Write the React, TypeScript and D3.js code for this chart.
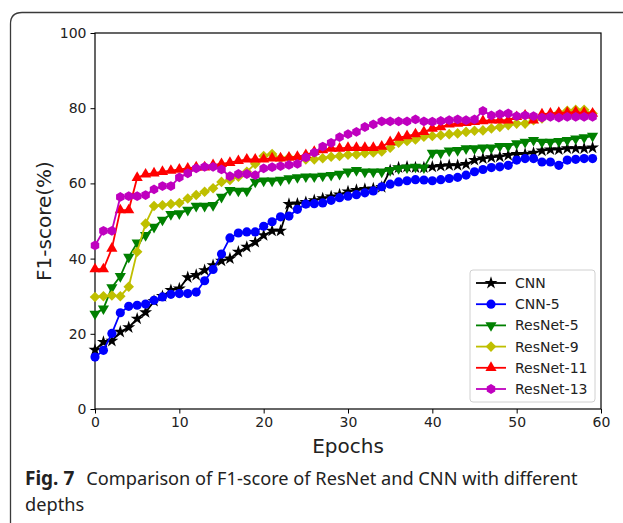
import { useEffect, useRef } from 'react';
import * as d3 from 'd3';

const W = 623;
const H = 523;

const epochs = d3.range(0, 60);

const cnn = [
	15.7, 17.8, 18.1, 20.5, 21.7, 24.0, 25.7, 28.7, 30.0, 31.6,
	32.0, 35.0, 35.6, 36.9, 38.2, 39.4, 40.0, 41.8, 43.1, 44.4,
	46.2, 47.4, 47.4, 54.5, 54.6, 55.0, 55.5, 56.0, 56.5, 57.0,
	57.8, 58.2, 58.5, 58.6, 59.0, 63.5, 64.2, 64.4, 64.2, 64.2,
	64.4, 64.6, 64.8, 64.8, 65.1, 66.2, 66.6, 66.9, 67.1, 67.5,
	67.8, 67.8, 68.1, 68.7, 69.0, 69.0, 69.3, 69.3, 69.3, 69.5,
];
const cnn5 = [
	13.8, 15.6, 20.1, 25.6, 27.3, 27.6, 27.9, 28.9, 29.8, 30.5,
	30.7, 30.7, 31.1, 34.1, 37.1, 41.2, 45.5, 46.8, 47.1, 47.1,
	48.6, 49.8, 51.1, 51.3, 53.1, 54.5, 54.6, 54.8, 55.5, 56.2,
	56.6, 57.0, 57.5, 58.0, 59.1, 59.8, 60.4, 60.7, 61.0, 60.9,
	60.7, 61.0, 61.3, 61.6, 62.2, 63.1, 63.7, 64.2, 64.4, 64.8,
	66.2, 66.6, 66.6, 65.7, 65.7, 64.8, 66.2, 66.4, 66.6, 66.6,
];
const resnet5 = [
	25.3, 26.7, 32.3, 35.3, 40.4, 44.2, 46.2, 48.4, 50.3, 51.8,
	52.0, 52.9, 54.0, 54.0, 54.2, 56.4, 58.2, 58.0, 58.0, 60.4,
	60.7, 60.7, 60.9, 61.3, 61.6, 61.8, 61.8, 62.0, 62.2, 62.5,
	63.1, 63.5, 63.1, 63.1, 63.1, 63.5, 64.0, 64.2, 64.4, 64.2,
	68.1, 68.1, 68.7, 68.8, 69.3, 69.3, 69.5, 69.5, 69.9, 69.9,
	70.6, 71.0, 71.5, 71.0, 71.0, 71.2, 71.5, 71.9, 72.2, 72.6,
];
const resnet9 = [
	29.8, 30.0, 30.2, 30.0, 32.5, 41.8, 49.3, 54.0, 54.2, 54.5,
	54.8, 56.0, 56.9, 57.8, 58.7, 60.4, 60.9, 61.8, 63.1, 65.2,
	67.3, 67.8, 66.7, 66.9, 66.9, 66.4, 66.4, 66.7, 67.1, 67.3,
	67.6, 67.7, 68.0, 68.2, 68.5, 69.5, 70.8, 71.3, 71.7, 72.4,
	72.6, 72.8, 73.1, 73.3, 73.7, 74.0, 74.1, 74.6, 75.0, 75.5,
	75.9, 75.9, 76.8, 77.3, 78.1, 78.8, 79.3, 79.6, 79.6, 78.6,
];
const resnet11 = [
	37.2, 37.2, 42.7, 52.9, 52.9, 61.5, 62.4, 62.7, 63.1, 63.4,
	63.7, 64.0, 64.3, 64.3, 64.9, 65.2, 65.5, 66.0, 66.4, 66.4,
	66.4, 66.7, 66.7, 66.9, 67.1, 67.6, 68.4, 68.9, 69.3, 69.3,
	69.5, 69.5, 69.5, 69.5, 69.8, 71.0, 72.2, 72.6, 73.1, 73.7,
	74.6, 75.0, 75.7, 75.9, 76.1, 76.4, 76.6, 76.8, 76.8, 76.8,
	77.7, 78.1, 76.8, 78.4, 78.6, 78.8, 78.8, 79.0, 78.8, 78.6,
];
const resnet13 = [
	43.5, 47.4, 47.4, 56.4, 56.6, 56.6, 56.9, 58.4, 59.3, 59.3,
	61.6, 62.7, 64.0, 64.4, 64.4, 63.7, 61.9, 62.5, 62.5, 62.2,
	64.0, 64.3, 64.6, 64.9, 65.2, 66.9, 68.2, 69.8, 70.8, 72.3,
	73.1, 73.7, 75.0, 75.7, 76.5, 76.5, 76.5, 76.5, 77.0, 76.5,
	76.4, 76.6, 76.8, 77.0, 76.8, 77.0, 79.3, 78.1, 78.4, 78.6,
	77.9, 78.1, 77.9, 77.5, 77.7, 77.5, 77.7, 77.7, 77.7, 77.7,
];

const names = ['CNN', 'CNN-5', 'ResNet-5', 'ResNet-9', 'ResNet-11', 'ResNet-13'];
const colors = ['#000000', '#0000ff', '#008000', '#bfbf00', '#ff0000', '#bf00bf'];
const markers = ['star', 'circle', 'tri-down', 'diamond', 'tri-up', 'hexagon'];
const values = [cnn, cnn5, resnet5, resnet9, resnet11, resnet13];

const xTicks = [0, 10, 20, 30, 40, 50, 60];
const yTicks = [0, 20, 40, 60, 80, 100];

// hexagon, since d3 has none
const symbolHexagon = {
	draw(ctx, size) {
		const r = Math.sqrt((2 * size) / (3 * Math.sqrt(3)));
		for (let i = 0; i < 6; i++) {
			const a = (Math.PI / 3) * i - Math.PI / 2;
			const px = r * Math.cos(a);
			const py = r * Math.sin(a);
			if (i === 0) ctx.moveTo(px, py);
			else ctx.lineTo(px, py);
		}
		ctx.closePath();
	},
};

function markerPath(kind) {
	if (kind === 'star') return d3.symbol(d3.symbolStar, 52)();
	if (kind === 'circle') return d3.symbol(d3.symbolCircle, 66)();
	if (kind === 'tri-up' || kind === 'tri-down') return d3.symbol(d3.symbolTriangle, 54)();
	if (kind === 'diamond') return d3.symbol(d3.symbolSquare, 56)();
	return d3.symbol(symbolHexagon, 62)();
}

function markerRotate(kind) {
	if (kind === 'tri-down') return 180;
	if (kind === 'diamond') return 45;
	return 0;
}

const margin = { top: 33, right: 22, bottom: 114, left: 95 };
const font = "'DejaVu Sans', sans-serif";
const capFont = "'Noto Sans', sans-serif";

export default function App() {
	const svgRef = useRef(null);

	useEffect(() => {
		const svg = d3.select(svgRef.current);
		svg.selectAll('*').remove();

		const x = d3.scaleLinear().domain([0, 60]).range([margin.left, W - margin.right]);
		const y = d3.scaleLinear().domain([0, 100]).range([H - margin.bottom, margin.top]);

		// page frame
		svg.append('path')
			.attr('d', `M10.5,${H + 2} L10.5,24 Q10.5,12.5 22,12.5 L${W + 2},12.5`)
			.attr('fill', 'none')
			.attr('stroke', '#3a3a3a')
			.attr('stroke-width', 1.3);

		const xAxis = svg.append('g')
			.attr('transform', `translate(0,${y(0)})`)
			.call(d3.axisBottom(x).tickValues(xTicks).tickSize(4.5).tickPadding(4));
		const yAxis = svg.append('g')
			.attr('transform', `translate(${x(0)},0)`)
			.call(d3.axisLeft(y).tickValues(yTicks).tickSize(4.5).tickPadding(4));
		[xAxis, yAxis].forEach(g => {
			g.attr('font-family', null).attr('font-size', null);
			g.select('.domain').remove();
			g.selectAll('line').attr('stroke', '#000').attr('stroke-width', 1);
			g.selectAll('text').style('font-family', font).style('font-size', '14px').attr('fill', '#222');
		});

		svg.append('rect')
			.attr('x', x(0))
			.attr('y', y(100))
			.attr('width', x(60) - x(0))
			.attr('height', y(0) - y(100))
			.attr('fill', 'none')
			.attr('stroke', '#000')
			.attr('stroke-width', 1.2);

		svg.append('text')
			.attr('x', (x(0) + x(60)) / 2)
			.attr('y', 453)
			.attr('text-anchor', 'middle')
			.style('font-family', font)
			.style('font-size', '20px')
			.attr('fill', '#222')
			.text('Epochs');

		svg.append('text')
			.attr('transform', `translate(51,${(y(0) + y(100)) / 2}) rotate(-90)`)
			.attr('text-anchor', 'middle')
			.style('font-family', font)
			.style('font-size', '20px')
			.attr('fill', '#222')
			.text('F1-score(%)');

		const line = d3.line().x((d, i) => x(epochs[i])).y(d => y(d));

		values.forEach((vals, k) => {
			const g = svg.append('g');
			g.append('path')
				.attr('d', line(vals))
				.attr('fill', 'none')
				.attr('stroke', colors[k])
				.attr('stroke-width', 1.8);
			const mp = markerPath(markers[k]);
			const rot = markerRotate(markers[k]);
			g.selectAll('path.m')
				.data(vals)
				.join('path')
				.attr('class', 'm')
				.attr('d', mp)
				.attr('transform', (d, i) => `translate(${x(epochs[i])},${y(d)}) rotate(${rot})`)
				.attr('fill', colors[k]);
		});

		// legend
		const lg = svg.append('g').attr('transform', 'translate(470,270)');
		lg.append('rect')
			.attr('width', 125)
			.attr('height', 132)
			.attr('rx', 3)
			.attr('fill', '#fff')
			.attr('fill-opacity', 0.85)
			.attr('stroke', '#d0d0d0');
		names.forEach((name, k) => {
			const ry = 13 + k * 21.2;
			lg.append('line')
				.attr('x1', 6).attr('x2', 36)
				.attr('y1', ry).attr('y2', ry)
				.attr('stroke', colors[k])
				.attr('stroke-width', 1.8);
			lg.append('path')
				.attr('d', markerPath(markers[k]))
				.attr('transform', `translate(21,${ry}) rotate(${markerRotate(markers[k])})`)
				.attr('fill', colors[k]);
			lg.append('text')
				.attr('x', 45)
				.attr('y', ry)
				.attr('dy', '0.35em')
				.style('font-family', font)
				.style('font-size', '14px')
				.attr('fill', '#222')
				.text(name);
		});

		// caption
		const cap = svg.append('text')
			.attr('x', 25)
			.attr('y', 485)
			.style('font-family', capFont)
			.style('font-size', '18.2px')
			.attr('fill', '#222');
		cap.append('tspan').attr('font-weight', 'bold').style('font-size', '19px').text('Fig. 7');
		cap.append('tspan').attr('dx', 12).text('Comparison of F1-score of ResNet and CNN with different');
		svg.append('text')
			.attr('x', 25)
			.attr('y', 511)
			.style('font-family', capFont)
			.style('font-size', '18.2px')
			.attr('fill', '#222')
			.text('depths');
	}, []);

	return (
		<svg
			ref={svgRef}
			width={W}
			height={H}
			style={{ position: 'absolute', left: 0, top: 0, background: '#fff' }}
		/>
	);
}
